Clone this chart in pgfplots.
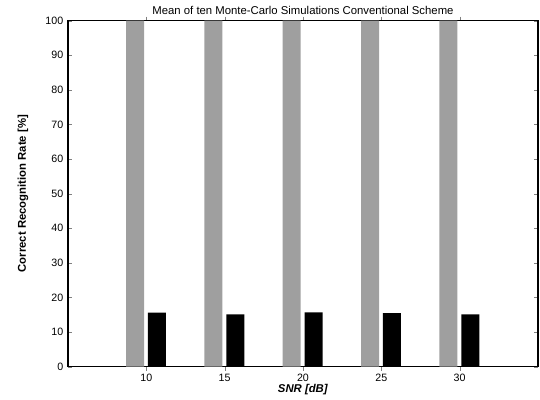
\documentclass[border=0pt]{standalone}
\usepackage{pgfplots}
\pgfplotsset{compat=1.18}
\usepackage{fontspec}
\setmainfont{Liberation Sans}
\begin{document}
\begin{tikzpicture}[x=1pt,y=1pt]
\useasboundingbox (-51,-25) rectangle (354,275);
\begin{axis}[
  at={(0,0)}, anchor=south west,
  scale only axis, width=352.5pt, height=259.5pt,
  xmin=5, xmax=35, ymin=0, ymax=100,
  xtick={10,15,20,25,30}, ytick={0,10,...,100},
  tick align=inside, major tick length=3pt,
  xtick pos=both, ytick pos=both,
  /pgf/number format/assume math mode=true,
  tick label style={font=\fontsize{8}{9}\selectfont},
  xticklabel style={yshift=1pt},
  title={Mean of ten Monte-Carlo Simulations  Conventional Scheme},
  title style={font=\fontsize{8.5}{10}\selectfont, yshift=-5pt},
  xlabel={\textbf{\textit{SNR [dB]}}},
  xlabel style={font=\fontsize{8.5}{10}\selectfont, yshift=4.5pt},
  ylabel={\textbf{Correct Recognition Rate [\%]}},
  ylabel style={font=\fontsize{8.5}{10}\selectfont, yshift=6pt},
  axis line style={line width=0.8pt},
  ybar, bar width=1.15,
]
\addplot[fill=gray!75, draw=none, bar shift=-0.72] coordinates {(10,100) (15,100) (20,100) (25,100) (30,100)};
\addplot[fill=black, draw=none, bar shift=0.68] coordinates {(10,15.6) (15,15.1) (20,15.7) (25,15.5) (30,15.1)};
\end{axis}
\end{tikzpicture}
\end{document}
